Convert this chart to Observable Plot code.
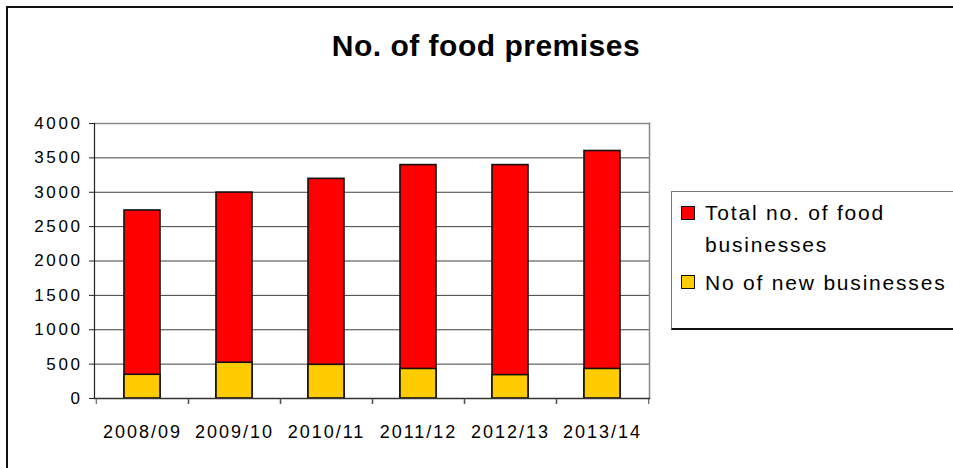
<!DOCTYPE html>
<html>
<head>
<meta charset="utf-8">
<script src="https://cdn.jsdelivr.net/npm/d3@7"></script>
<script src="https://cdn.jsdelivr.net/npm/@observablehq/plot@0.6"></script>
<style>
  html, body { margin: 0; padding: 0; background: #fff; overflow: hidden; }
  #wrap { position: relative; width: 953px; height: 468px; font-family: "Liberation Sans", Arial, sans-serif; color: #000; }
  #wrap svg { position: absolute; left: 0; top: 0; }
  #wrap svg g[aria-label="y-axis tick label"] text { font-size: 17px !important; letter-spacing: 2.6px; }
  #wrap svg g[aria-label="x-axis tick label"] text { font-size: 18px !important; letter-spacing: 2px; }
  #border { position: absolute; left: 6px; top: 6px; width: 960px; height: 470px; border-left: 2px solid #111; border-top: 2px solid #111; box-sizing: border-box; pointer-events: none; }
  #title { position: absolute; left: 0; width: 972px; top: 31px; text-align: center; font-size: 30px; font-weight: bold; line-height: 1; letter-spacing: 0.5px; white-space: nowrap; }
  #legend { position: absolute; left: 671px; top: 191px; width: 300px; height: 139px; box-sizing: border-box; border: 1px solid #777; border-bottom: 2px solid #111; background: #fff; }
  .lt { position: absolute; left: 705px; font-size: 21px; line-height: 1; letter-spacing: 1.8px; white-space: nowrap; }
  .sw { position: absolute; left: 681px; width: 14px; height: 14px; box-sizing: border-box; border: 1.5px solid #111; }
</style>
</head>
<body>
<div id="wrap"></div>
<script>
const years = ["2008/09", "2009/10", "2010/11", "2011/12", "2012/13", "2013/14"];
const totalBusinesses = [2735, 2995, 3195, 3395, 3395, 3600];
const newBusinesses = [345, 520, 490, 430, 340, 430];
const yTicks = [0, 500, 1000, 1500, 2000, 2500, 3000, 3500, 4000];
const seriesNames = ["Total no. of food businesses", "No of new businesses"];
const seriesColors = ["#FF0000", "#FFCC00"];

const rows = years.map((y, i) => ({year: y, total: totalBusinesses[i], fresh: newBusinesses[i]}));

const W = 953, H = 468;
const mL = 94, mR = W - 649, mT = 123, mB = H - 398;
const step = (W - mL - mR) / years.length;

const chart = Plot.plot({
  width: W,
  height: H,
  marginLeft: mL,
  marginRight: mR,
  marginTop: mT,
  marginBottom: mB,
  style: {background: "transparent", fontFamily: "'Liberation Sans', Arial, sans-serif", color: "#000"},
  x: {domain: years, paddingInner: 0.61, paddingOuter: 0.305, label: null},
  y: {domain: [0, 4000], label: null},
  marks: [
    Plot.gridY(yTicks, {stroke: "#404040", strokeOpacity: 1, strokeWidth: 1}),
    Plot.frame({anchor: "top", stroke: "#888", strokeWidth: 1.5}),
    Plot.frame({anchor: "right", stroke: "#888", strokeWidth: 1.5}),
    Plot.barY(rows, {x: "year", y: "total", fill: seriesColors[0], stroke: "#111", strokeWidth: 1.6}),
    Plot.barY(rows, {x: "year", y: "fresh", fill: seriesColors[1], stroke: "#111", strokeWidth: 1.6}),
    Plot.frame({anchor: "left", stroke: "#222", strokeWidth: 1.2}),
    Plot.frame({anchor: "bottom", stroke: "#333", strokeWidth: 1.5}),
    Plot.axisY(yTicks, {anchor: "left", tickSize: 5, tickPadding: 7, fontSize: 17, stroke: "#222", tickFormat: d => String(d), label: null}),
    Plot.axisX({anchor: "bottom", tickSize: 6, dx: step / 2, tickFormat: null, text: null, stroke: "#444", label: null}),
    Plot.axisX({anchor: "bottom", tickSize: 6, dx: -step / 2, tickFormat: null, text: null, stroke: "#444", label: null}),
    Plot.axisX({anchor: "bottom", tickSize: 0, tickPadding: 27, fontSize: 18, label: null})
  ]
});

const wrap = document.getElementById("wrap");
wrap.appendChild(chart);

const title = document.createElement("div");
title.id = "title";
title.textContent = "No. of food premises";
wrap.appendChild(title);

const legend = document.createElement("div");
legend.id = "legend";
wrap.appendChild(legend);

const legendLines = [
  {text: "Total no. of food", top: 203, sw: 206, color: seriesColors[0]},
  {text: "businesses", top: 234.5, sw: null},
  {text: seriesNames[1], top: 273, sw: 275, color: seriesColors[1]}
];
for (const l of legendLines) {
  const t = document.createElement("div");
  t.className = "lt";
  t.style.top = (l.top - 1) + "px";
  t.textContent = l.text;
  wrap.appendChild(t);
  if (l.sw != null) {
    const s = document.createElement("div");
    s.className = "sw";
    s.style.top = l.sw + "px";
    s.style.background = l.color;
    wrap.appendChild(s);
  }
}

const border = document.createElement("div");
border.id = "border";
wrap.appendChild(border);
</script>
</body>
</html>
